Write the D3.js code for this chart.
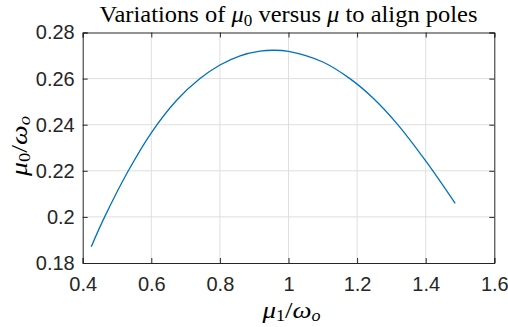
<!DOCTYPE html>
<html>
<head>
<meta charset="utf-8">
<script src="https://cdn.jsdelivr.net/npm/d3@7"></script>
<style>
  body { margin: 0; background: #fff; }
  svg { display: block; }
</style>
</head>
<body>
<svg width="508" height="327"></svg>
<script>
const width = 508;
const height = 327;
const margin = {left: 82.7, right: 13.7, top: 32.5, bottom: 64};

// values
const muRatio = [0.425, 0.464, 0.533, 0.6, 0.674, 0.742, 0.8, 0.859, 0.917, 0.956, 1.0, 1.1, 1.178, 1.247, 1.316, 1.4, 1.486];
const mu0Ratio = [0.1871, 0.2000, 0.2200, 0.2365, 0.2506, 0.2600, 0.2659, 0.2699, 0.2719, 0.2723, 0.2718, 0.2672, 0.2601, 0.2515, 0.2405, 0.2243, 0.2059];
const xTicks = [0.4, 0.6, 0.8, 1, 1.2, 1.4, 1.6];
const yTicks = [0.18, 0.2, 0.22, 0.24, 0.26, 0.28];

const svg = d3.select("svg");

const x = d3.scaleLinear().domain([0.4, 1.6]).range([margin.left, width - margin.right]);
const y = d3.scaleLinear().domain([0.18, 0.28]).range([height - margin.bottom, margin.top]);

const tickFont = "'Liberation Sans', Arial, sans-serif";
const serif = "'Liberation Serif', 'DejaVu Serif', serif";

// grid
const grid = svg.append("g").attr("stroke", "#dfdfdf").attr("stroke-width", 1);
grid.selectAll("line.gx").data(xTicks.slice(1, -1)).join("line")
  .attr("x1", d => x(d)).attr("x2", d => x(d))
  .attr("y1", y(0.18)).attr("y2", y(0.28));
grid.selectAll("line.gy").data(yTicks.slice(1, -1)).join("line")
  .attr("y1", d => y(d)).attr("y2", d => y(d))
  .attr("x1", x(0.4)).attr("x2", x(1.6));

// curve
const line = d3.line()
  .x((d, i) => x(muRatio[i]))
  .y(d => y(d))
  .curve(d3.curveCatmullRom);

svg.append("path")
  .datum(mu0Ratio)
  .attr("fill", "none")
  .attr("stroke", "#0072bd")
  .attr("stroke-width", 1.3)
  .attr("d", line);

// axes, ticks inward
const axisColor = "#262626";
const axBottom = svg.append("g")
  .attr("transform", `translate(0,${y(0.18)})`)
  .call(d3.axisBottom(x).tickValues(xTicks).tickSize(-5).tickPadding(14).tickFormat(d3.format("")));
const axTop = svg.append("g")
  .attr("transform", `translate(0,${y(0.28)})`)
  .call(d3.axisTop(x).tickValues(xTicks).tickSize(-5).tickFormat(""));
const axLeft = svg.append("g")
  .attr("transform", `translate(${x(0.4)},0)`)
  .call(d3.axisLeft(y).tickValues(yTicks).tickSize(-5).tickPadding(8).tickFormat(d3.format("")));
const axRight = svg.append("g")
  .attr("transform", `translate(${x(1.6)},0)`)
  .call(d3.axisRight(y).tickValues(yTicks).tickSize(-5).tickFormat(""));

[axBottom, axTop, axLeft, axRight].forEach(g => {
  g.select(".domain").attr("stroke", axisColor).attr("stroke-width", 1);
  g.selectAll(".tick line").attr("stroke", axisColor);
  g.selectAll("text").attr("fill", axisColor)
    .style("font-family", tickFont).style("font-size", "20px");
});

// title
const title = svg.append("text")
  .attr("x", (x(0.4) + x(1.6)) / 2)
  .attr("y", 22)
  .attr("text-anchor", "middle")
  .attr("textLength", 378)
  .attr("lengthAdjust", "spacingAndGlyphs")
  .style("font-family", serif)
  .style("font-size", "23px")
  .attr("fill", "#000");
title.append("tspan").text("Variations of ");
title.append("tspan").attr("font-style", "italic").text("μ");
title.append("tspan").attr("font-size", "16px").attr("dy", 4).text("0");
title.append("tspan").attr("dy", -4).text(" versus ");
title.append("tspan").attr("font-style", "italic").text("μ");
title.append("tspan").text(" to align poles");

// axis labels
function ratioLabel(sel, sub) {
  sel.append("tspan").attr("font-style", "italic").text("μ");
  sel.append("tspan").attr("font-size", "16px").attr("dy", 3).text(sub);
  sel.append("tspan").attr("dy", -3).text("/");
  sel.append("tspan").attr("font-style", "italic").text("ω");
  sel.append("tspan").attr("font-size", "16px").attr("font-style", "italic").attr("dy", 3).text("o");
}

const xLabel = svg.append("text")
  .attr("x", 291.5)
  .attr("y", 318)
  .attr("text-anchor", "middle")
  .attr("textLength", 58)
  .attr("lengthAdjust", "spacingAndGlyphs")
  .style("font-family", serif)
  .style("font-size", "24px")
  .attr("fill", "#000");
ratioLabel(xLabel, "1");

const yLabel = svg.append("text")
  .attr("transform", `translate(27,146) rotate(-90)`)
  .attr("text-anchor", "middle")
  .attr("textLength", 60)
  .attr("lengthAdjust", "spacingAndGlyphs")
  .style("font-family", serif)
  .style("font-size", "24px")
  .attr("fill", "#000");
ratioLabel(yLabel, "0");
</script>
</body>
</html>
